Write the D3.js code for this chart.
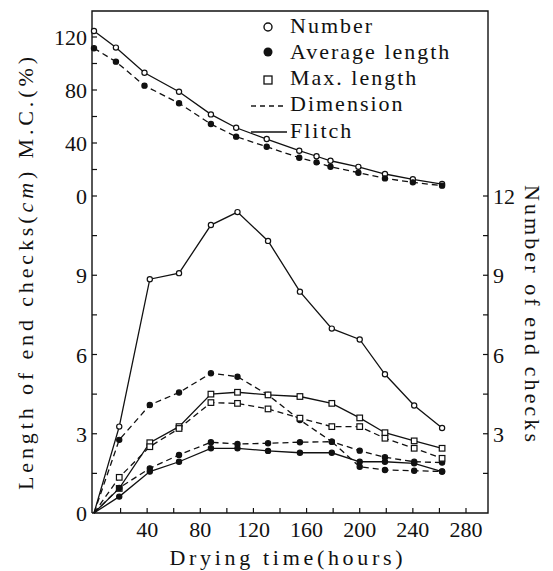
<!DOCTYPE html>
<html><head><meta charset="utf-8">
<script src="https://cdn.jsdelivr.net/npm/d3@7"></script>
<style>
body{margin:0;background:#fff;}
text{font-family:"Liberation Serif","Times New Roman",Times,Tinos,"DejaVu Serif","Noto Serif",serif;fill:#111;}
</style></head>
<body><svg id="c" width="553" height="571"></svg>
<script>
// ---- data ----
const hours = [0, 19, 42, 64, 88, 108, 131, 155, 179, 200, 219, 241, 262];
const flitchNumber = [0, 3.27, 8.85, 9.08, 10.9, 11.39, 10.3, 8.38, 6.98, 6.57, 5.25, 4.07, 3.22];
const dimNumber    = [0, 2.77, 4.09, 4.56, 5.29, 5.16, 4.47, 3.52, 2.7, 2.36, 2.11, 1.94, 1.91];
const flitchMax    = [0, 0.93, 2.66, 3.27, 4.5, 4.57, 4.47, 4.41, 4.15, 3.6, 3.04, 2.73, 2.45];
const dimMax       = [0, 1.35, 2.51, 3.2, 4.18, 4.15, 3.94, 3.59, 3.27, 3.27, 2.83, 2.45, 2.07];
const flitchAvg    = [0, 0.62, 1.57, 1.94, 2.45, 2.45, 2.35, 2.28, 2.28, 1.94, 1.94, 1.88, 1.57];
const dimAvg       = [0, 0.95, 1.69, 2.2, 2.68, 2.61, 2.64, 2.68, 2.7, 1.75, 1.63, 1.6, 1.57];

const mcHours   = [0, 16.5, 38, 64, 88, 107, 130, 154.5, 167.5, 178, 199, 219, 240, 262];
const flitchMC  = [124.5, 112, 93, 78.7, 61.6, 51.5, 43, 34.2, 30, 26.6, 22, 16.6, 12.6, 9];
const dimMC     = [111.5, 101.4, 83.3, 70, 54.3, 44.8, 37.2, 28.9, 25.4, 22.1, 17.6, 13.3, 10.3, 7.8];

const xTicks = [40, 80, 120, 160, 200, 240, 280];
const mcTicks = [0, 40, 80, 120];
const lenTicks = [0, 3, 6, 9];
const numTicks = [3, 6, 9, 12];
const legendLabels = ["Number", "Average length", "Max. length", "Dimension", "Flitch"];

// ---- scales ----
const svg = d3.select("#c");
const x = d3.scaleLinear().domain([0, 280]).range([94, 466]);
const yLen = d3.scaleLinear().domain([0, 12]).range([513, 196]);
const yMC = d3.scaleLinear().domain([0, 120]).range([196, 37]);
const L = 92, R = 488, T = 11, B = 513;

// frame
svg.append("path").attr("d", `M${L},${B}V${T}H${R}V${B}H${L}`)
  .attr("fill", "none").attr("stroke", "#111").attr("stroke-width", 1.4);

const tk = svg.append("g").attr("stroke", "#111").attr("stroke-width", 1.2);
d3.range(20, 281, 20).forEach(v => tk.append("line").attr("x1", x(v)).attr("x2", x(v)).attr("y1", B).attr("y2", B - 5));
d3.range(0, 121, 20).forEach(v => tk.append("line").attr("x1", L).attr("x2", L + 5).attr("y1", yMC(v)).attr("y2", yMC(v)));
d3.range(1.5, 11, 1.5).forEach(v => tk.append("line").attr("x1", L).attr("x2", L + 5).attr("y1", yLen(v)).attr("y2", yLen(v)));
d3.range(1.5, 12.1, 1.5).forEach(v => tk.append("line").attr("x1", R).attr("x2", R - 5).attr("y1", yLen(v)).attr("y2", yLen(v)));

const fs = 22;
svg.selectAll(".xt").data(xTicks).enter().append("text")
  .attr("x", d => x(d)).attr("y", 537).attr("text-anchor", "middle").attr("font-size", fs).text(d => d);
svg.selectAll(".mt").data(mcTicks).enter().append("text")
  .attr("x", 87).attr("y", d => yMC(d) + 8).attr("text-anchor", "end").attr("font-size", fs).text(d => d);
svg.selectAll(".lt").data(lenTicks).enter().append("text")
  .attr("x", 87).attr("y", d => yLen(d) + 8).attr("text-anchor", "end").attr("font-size", fs).text(d => d);
svg.selectAll(".rt").data(numTicks).enter().append("text")
  .attr("x", 493).attr("y", d => yLen(d) + 8).attr("text-anchor", "start").attr("font-size", fs).text(d => d);

// axis titles
svg.append("text").attr("x", 286).attr("y", 565).attr("text-anchor", "middle").attr("font-size", fs)
  .attr("textLength", 233).attr("lengthAdjust", "spacing").text("Drying time(hours)");
const lt = svg.append("text").attr("transform", "translate(33,273.5) rotate(-90)")
  .attr("text-anchor", "middle").attr("font-size", fs).attr("textLength", 433).attr("lengthAdjust", "spacing");
lt.append("tspan").text("Length of end checks(");
lt.append("tspan").attr("font-style", "italic").text("cm");
lt.append("tspan").text(")  M.C.(%)");
svg.append("text").attr("transform", "translate(525,313.5) rotate(90)")
  .attr("text-anchor", "middle").attr("font-size", fs).attr("textLength", 257).attr("lengthAdjust", "spacing")
  .text("Number of end checks");

// series
function draw(xs, ys, yScale, dashed, marker) {
  const pts = xs.map((h, i) => [x(h), yScale(ys[i])]);
  svg.append("path").attr("d", d3.line()(pts)).attr("fill", "none").attr("stroke", "#111")
    .attr("stroke-width", 1.3).attr("stroke-dasharray", dashed ? "6,4" : null);
  const g = svg.append("g");
  pts.forEach(([px, py], i) => {
    if (i === 0 && yScale === yLen) return;
    if (marker === "square") {
      g.append("rect").attr("x", px - 2.8).attr("y", py - 2.8).attr("width", 5.6).attr("height", 5.6)
        .attr("fill", "#fff").attr("stroke", "#111").attr("stroke-width", 1.2);
    } else {
      g.append("circle").attr("cx", px).attr("cy", py).attr("r", 2.6)
        .attr("fill", marker === "filled" ? "#111" : "#fff").attr("stroke", "#111").attr("stroke-width", 1.2);
    }
  });
}
draw(mcHours, flitchMC, yMC, false, "open");
draw(mcHours, dimMC, yMC, true, "filled");
draw(hours, flitchNumber, yLen, false, "open");
draw(hours, dimNumber, yLen, true, "filled");
draw(hours, flitchMax, yLen, false, "square");
draw(hours, dimMax, yLen, true, "square");
draw(hours, flitchAvg, yLen, false, "filled");
draw(hours, dimAvg, yLen, true, "filled");

// legend
const lg = svg.append("g");
const lyb = [33, 59, 85, 111, 138];
lg.append("circle").attr("cx", 268).attr("cy", 27).attr("r", 4).attr("fill", "#fff").attr("stroke", "#111").attr("stroke-width", 1.4);
lg.append("circle").attr("cx", 268).attr("cy", 52).attr("r", 4.5).attr("fill", "#111");
lg.append("rect").attr("x", 264).attr("y", 76).attr("width", 8).attr("height", 8).attr("fill", "#fff").attr("stroke", "#111").attr("stroke-width", 1.3);
lg.append("line").attr("x1", 251).attr("x2", 287).attr("y1", 106).attr("y2", 106).attr("stroke", "#111").attr("stroke-width", 1.4).attr("stroke-dasharray", "5,4");
lg.append("line").attr("x1", 251).attr("x2", 287).attr("y1", 132).attr("y2", 132).attr("stroke", "#111").attr("stroke-width", 1.4);
lg.selectAll("text").data(legendLabels).enter().append("text")
  .attr("x", 290).attr("y", (d, i) => lyb[i]).attr("font-size", fs).attr("letter-spacing", 2).text(d => d);
</script></body></html>
